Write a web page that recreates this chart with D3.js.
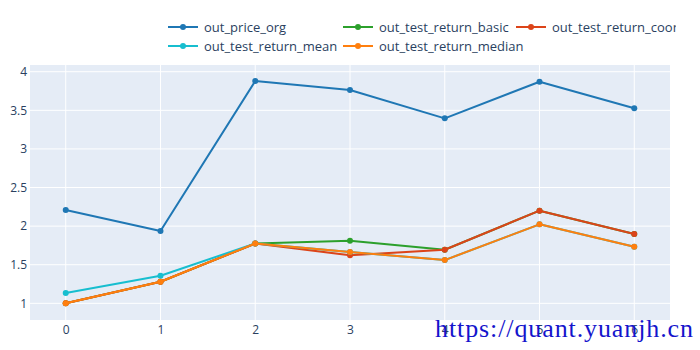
<!DOCTYPE html>
<html>
<head>
<meta charset="utf-8">
<script src="https://cdn.jsdelivr.net/npm/d3@7"></script>
<style>
  body { margin: 0; background: #fff; }
  svg { display: block; font-family: "Open Sans", verdana, arial, sans-serif; }
</style>
</head>
<body>
<svg id="chart" width="700" height="350"></svg>
<script>
// values
const xValues = [0, 1, 2, 3, 4, 5, 6];
const priceOrg = [2.21, 1.937, 3.88, 3.763, 3.396, 3.87, 3.526];
const returnBasic = [1.0, 1.28, 1.775, 1.811, 1.694, 2.2, 1.898];
const returnCoor = [1.0, 1.28, 1.775, 1.622, 1.694, 2.2, 1.898];
const returnMean = [1.133, 1.357, 1.775, 1.665, 1.56, 2.023, 1.733];
const returnMedian = [1.0, 1.28, 1.775, 1.665, 1.56, 2.023, 1.733];
const yTicks = [1, 1.5, 2, 2.5, 3, 3.5, 4];

const series = [
    { name: "out_price_org", values: priceOrg, color: "#1f77b4" },
    { name: "out_test_return_basic", values: returnBasic, color: "#2ca02c" },
    { name: "out_test_return_coor", values: returnCoor, color: "#dc4419" },
    { name: "out_test_return_mean", values: returnMean, color: "#17becf" },
    { name: "out_test_return_median", values: returnMedian, color: "#ff7f0e" }
];

const svg = d3.select("#chart");
const plot = { left: 30, right: 670, top: 65, bottom: 320 };

const x = d3.scaleLinear().domain([-0.377, 6.377]).range([plot.left, plot.right]);
const y = d3.scaleLinear().domain([0.784, 4.087]).range([plot.bottom, plot.top]);

svg.append("rect")
    .attr("x", plot.left).attr("y", plot.top)
    .attr("width", plot.right - plot.left).attr("height", plot.bottom - plot.top)
    .attr("fill", "#e5ecf6");

// grid
const grid = svg.append("g");
grid.selectAll("line.gx").data(xValues).join("line")
    .attr("x1", d => x(d)).attr("x2", d => x(d))
    .attr("y1", plot.top).attr("y2", plot.bottom)
    .attr("stroke", "#fff").attr("stroke-width", 1);
grid.selectAll("line.gy").data(yTicks).join("line")
    .attr("x1", plot.left).attr("x2", plot.right)
    .attr("y1", d => y(d)).attr("y2", d => y(d))
    .attr("stroke", "#fff").attr("stroke-width", 1);

// axes (labels only, plotly style)
const xAxis = svg.append("g")
    .attr("transform", `translate(0,${plot.bottom})`)
    .call(d3.axisBottom(x).tickValues(xValues).tickSize(0).tickPadding(5).tickFormat(d3.format("d")));
const yAxis = svg.append("g")
    .attr("transform", `translate(${plot.left},0)`)
    .call(d3.axisLeft(y).tickValues(yTicks).tickSize(0).tickPadding(3).tickFormat(d => d));
[xAxis, yAxis].forEach(a => {
    a.select(".domain").remove();
    a.selectAll("text")
        .attr("fill", "#2a3f5f")
        .style("font-size", "12px")
        .style("font-family", "\"Open Sans\", verdana, arial, sans-serif");
});

// lines + markers
const line = d3.line().x((d, i) => x(xValues[i])).y(d => y(d));
const traces = svg.append("g");
series.forEach(s => {
    const g = traces.append("g");
    g.append("path")
        .attr("d", line(s.values))
        .attr("fill", "none")
        .attr("stroke", s.color)
        .attr("stroke-width", 2)
        .attr("stroke-linejoin", "round");
    g.selectAll("circle").data(s.values).join("circle")
        .attr("cx", (d, i) => x(xValues[i]))
        .attr("cy", d => y(d))
        .attr("r", 3)
        .attr("fill", s.color);
});

// legend, horizontal like plotly
svg.append("clipPath").attr("id", "legclip")
    .append("rect").attr("x", 0).attr("y", 0).attr("width", 676).attr("height", 60);
const legendCols = [168, 343, 516];
const legendRows = [27, 46];
const legend = svg.append("g").attr("clip-path", "url(#legclip)");
series.forEach((s, i) => {
    const lx = legendCols[i % 3];
    const ly = legendRows[Math.floor(i / 3)];
    const item = legend.append("g").attr("transform", `translate(${lx},${ly})`);
    item.append("line")
        .attr("x1", 0).attr("x2", 30).attr("y1", 0).attr("y2", 0)
        .attr("stroke", s.color).attr("stroke-width", 2);
    item.append("circle").attr("cx", 15).attr("cy", 0).attr("r", 3).attr("fill", s.color);
    item.append("text")
        .attr("x", 36).attr("y", 4.5)
        .attr("fill", "#2a3f5f")
        .style("font-size", "13px")
        .text(s.name);
});

// watermark
svg.append("text")
    .attr("x", 435).attr("y", 337)
    .attr("fill", "#1414cc")
    .attr("textLength", 258)
    .style("font-family", "\"Liberation Serif\", serif")
    .style("font-size", "26px")
    .text("https://quant.yuanjh.cn");
</script>
</body>
</html>
